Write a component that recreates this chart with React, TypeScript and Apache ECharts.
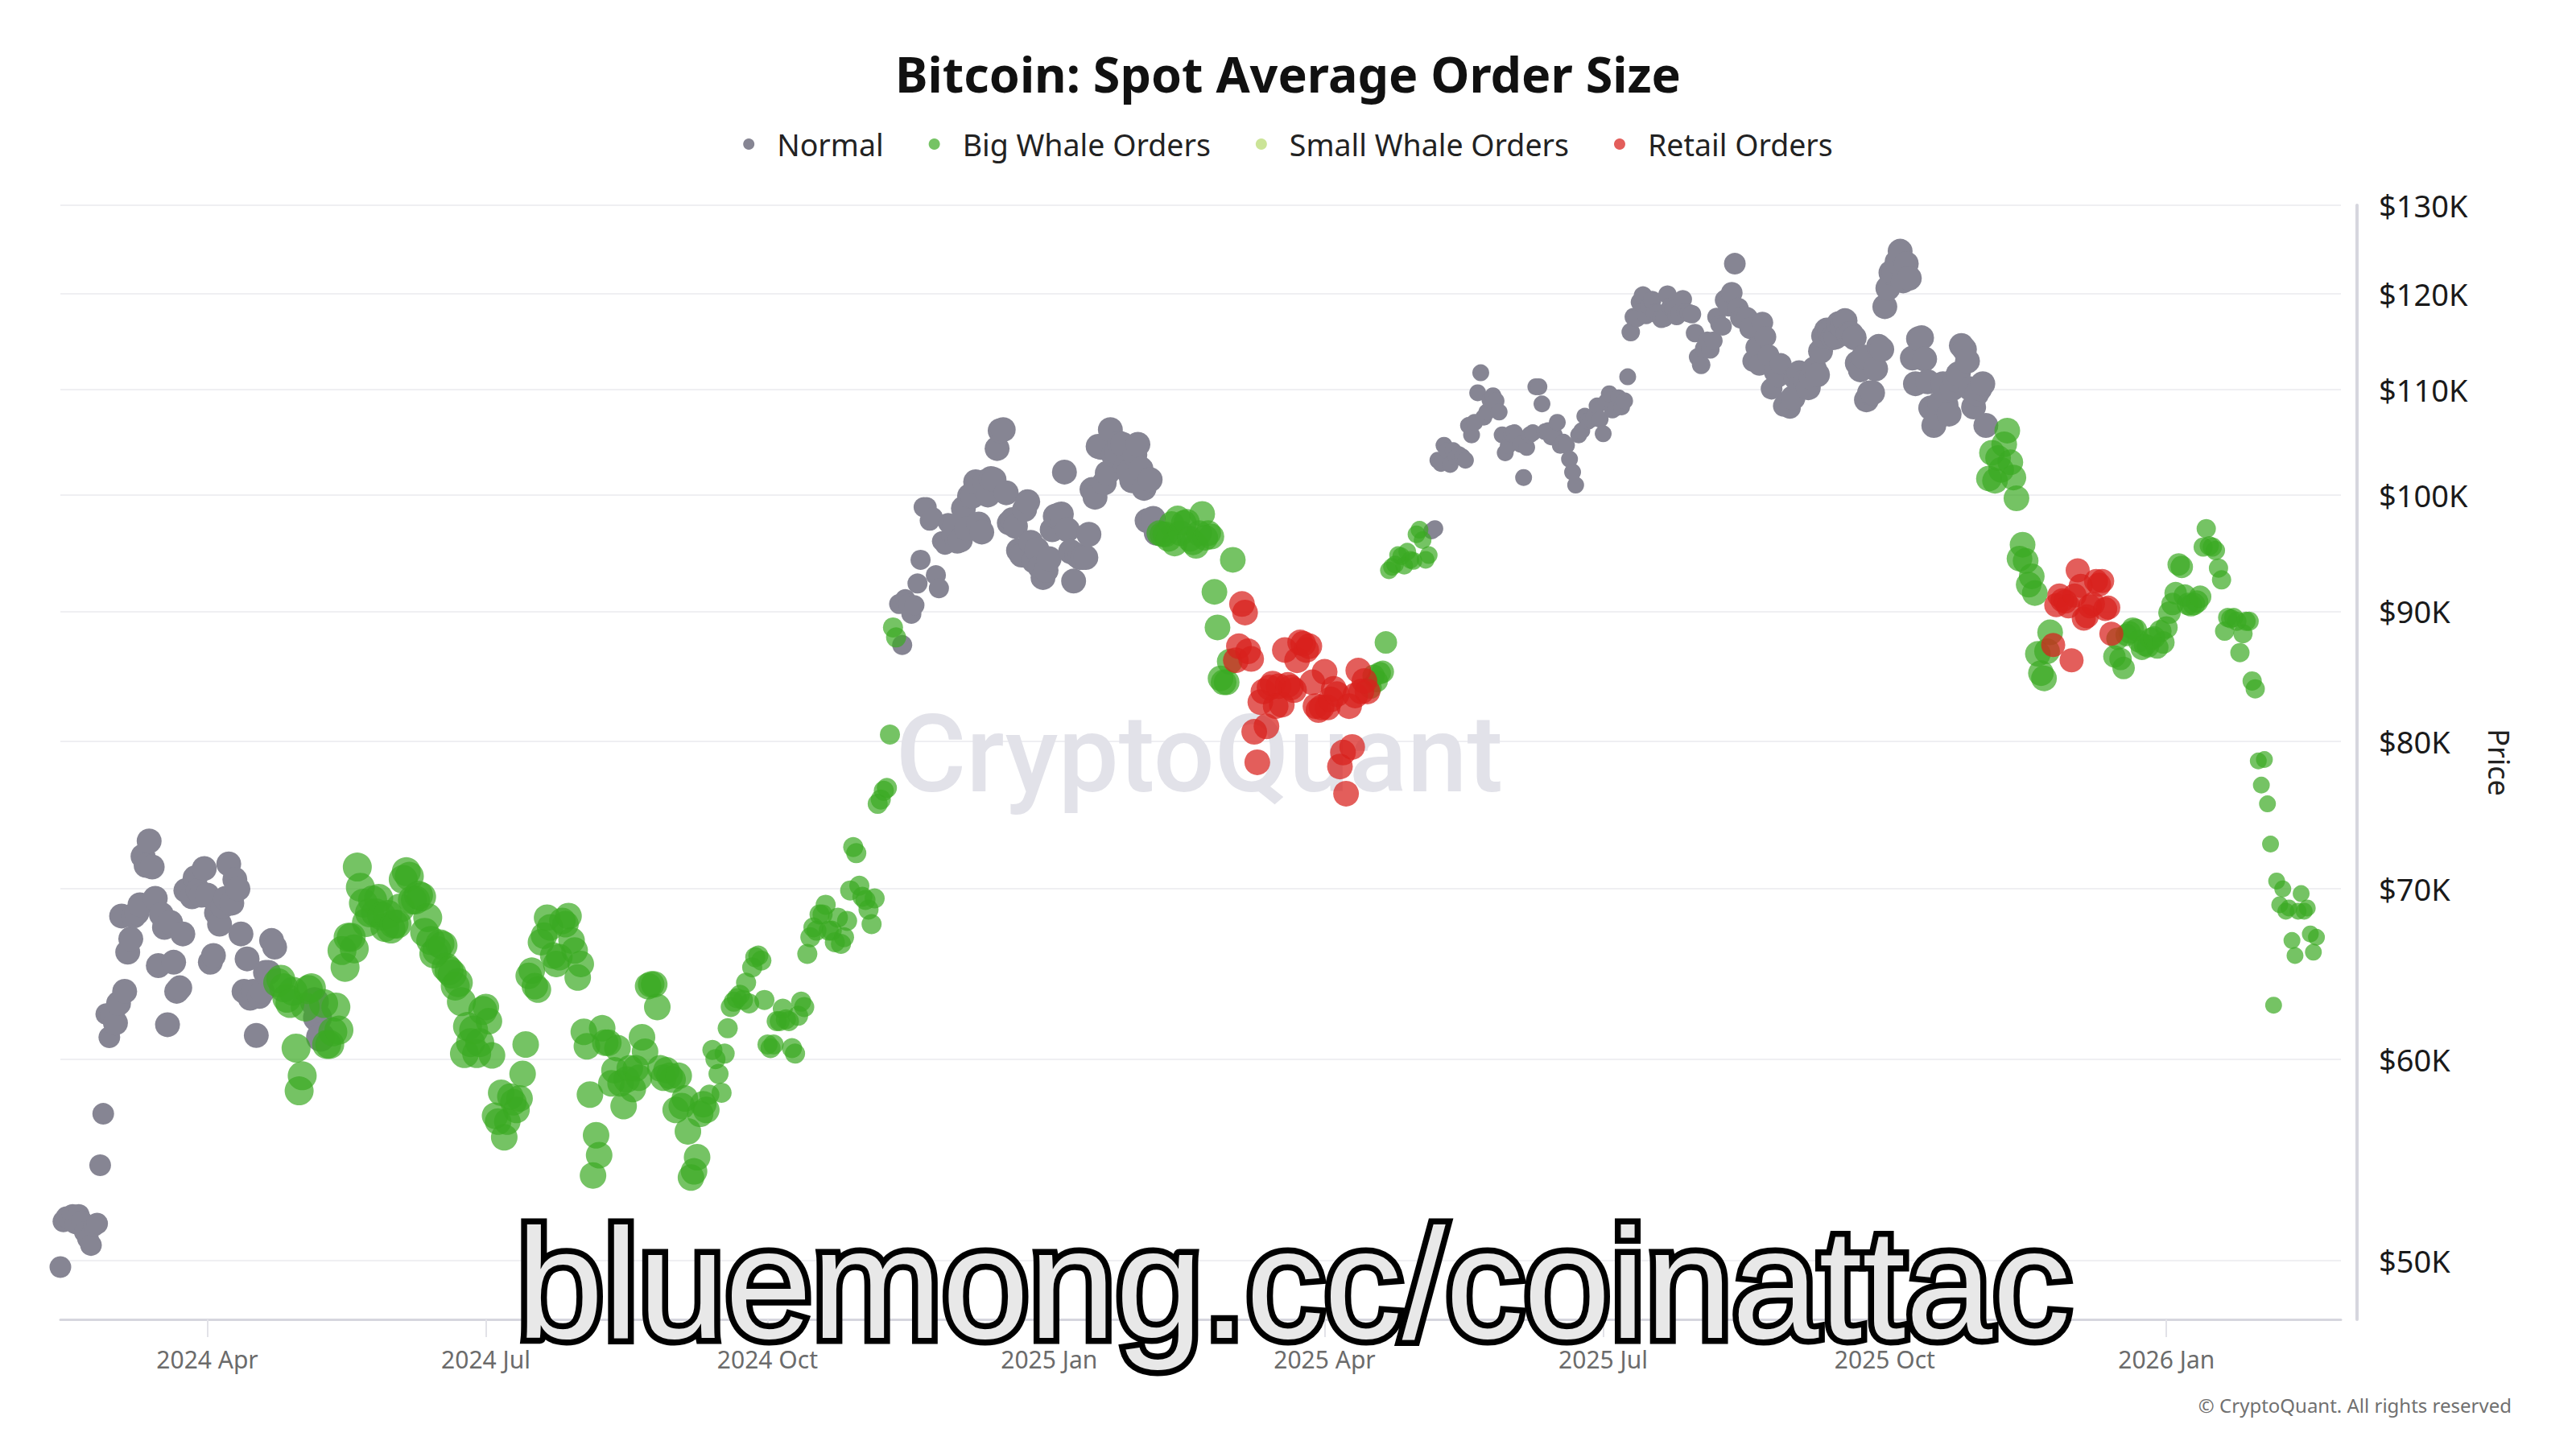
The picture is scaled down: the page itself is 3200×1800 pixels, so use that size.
import React, { useEffect, useRef } from "react";
import * as echarts from "echarts";

// ---------------- DATA ----------------
// Daily BTC price (in $K), starting 2024-02-13
const FIRST_DAY = "2024-02-13";

const close2024 = [
  // Feb 13-29
  49.7, 51.8, 52.0, 51.9, 52.1, 51.7, 52.1, 51.8, 51.3, 51.0, 50.7, 51.6, 51.7, 54.5, 57.1, 62.5, 61.2,
  // Mar
  62.4, 62.0, 63.1, 68.3, 63.8, 66.1, 66.9, 68.3, 68.5, 69.0, 72.1, 71.5, 73.1, 71.4, 69.4, 65.3, 68.4, 67.6, 61.9, 67.9, 65.5, 63.8, 64.0, 67.2, 69.9, 69.9, 69.5, 70.7, 69.9, 69.6, 71.3,
  // Apr
  69.6, 65.5, 65.9, 68.5, 67.8, 68.9, 69.4, 71.6, 69.1, 70.6, 70.0, 67.2, 63.8, 65.7, 63.4, 63.8, 61.3, 63.5, 63.8, 64.9, 64.9, 66.8, 66.4, 64.3, 64.5, 64.0, 63.4, 63.1, 63.8, 60.6,
  // May
  58.3, 59.1, 62.9, 63.9, 64.0, 63.2, 62.3, 61.2, 63.1, 60.8, 60.8, 61.5, 62.9, 61.6, 66.2, 65.2, 67.0, 67.0, 66.3, 71.4, 70.1, 69.1, 67.9, 68.5, 69.3, 68.5, 69.4, 68.3, 67.6, 68.4, 67.5,
  // Jun
  67.8, 67.8, 68.8, 70.6, 71.1, 70.8, 69.3, 69.3, 69.6, 69.5, 67.3, 68.2, 66.8, 66.0, 66.2, 66.6, 66.5, 65.2, 65.0, 64.8, 64.1, 64.3, 63.2, 60.3, 61.8, 60.9, 61.6, 60.3, 60.9, 62.7,
  // Jul
  62.9, 62.1, 60.2, 57.0, 56.7, 58.2, 55.9, 56.7, 58.0, 57.7, 57.3, 57.9, 59.2, 60.8, 64.7, 65.0, 64.1, 63.9, 66.7, 67.1, 68.2, 67.6, 65.9, 65.4, 65.8, 68.0, 67.8, 68.3, 66.8, 66.2, 64.6,
  // Aug
  65.4, 61.5, 60.7, 58.1, 54.0, 56.0, 55.0, 61.7, 60.9, 60.9, 58.7, 59.4, 60.6, 58.7, 57.5, 58.9, 59.5, 58.4, 59.5, 59.0, 61.2, 60.4, 64.1, 64.2, 64.2, 62.9, 59.5, 59.0, 59.4, 59.1, 58.9,
  // Sep
  57.3, 59.1, 57.5, 57.9, 56.2, 53.9, 54.2, 54.9, 57.1, 57.6, 57.3, 58.1, 60.5, 60.0, 59.2, 58.2, 60.3, 61.7, 62.9, 63.2, 63.4, 63.6, 63.3, 64.3, 63.1, 65.2, 65.8, 65.9, 65.6, 63.3,
  // Oct
  60.8, 60.6, 60.8, 62.1, 62.1, 62.8, 62.2, 62.1, 60.6, 60.3, 62.4, 63.2, 62.9, 66.0, 67.0, 67.6, 67.4, 68.4, 68.4, 69.0, 67.4, 67.4, 66.7, 68.2, 66.6, 67.0, 68.0, 69.9, 72.7, 72.3, 70.2,
  // Nov
  69.5, 69.3, 68.7, 67.8, 69.4, 75.6, 75.9, 76.5, 76.7, 80.5, 88.7, 87.9, 90.6, 87.3, 91.0, 90.6, 89.8, 90.5, 92.3, 94.3, 98.9, 98.9, 97.7, 98.0, 93.0, 91.9, 95.9, 95.6, 97.5, 96.4,
  // Dec
  97.2, 95.9, 96.0, 98.8, 97.0, 99.9, 99.9, 101.2, 97.4, 96.7, 101.2, 100.0, 101.5, 101.4, 104.3, 106.0, 106.1, 100.2, 97.5, 97.8, 97.2, 95.1, 94.7, 98.7, 99.4, 95.8, 94.2, 95.2, 93.7, 92.8, 93.4,
];

const close2025 = [
  // Jan
  94.4, 96.9, 98.1, 98.2, 98.3, 102.1, 96.9, 95.0, 92.5, 94.7, 94.5, 94.5, 94.5, 96.5, 100.5, 99.8, 104.5, 104.4, 101.1, 102.0, 106.1, 103.7, 104.0, 104.8, 104.7, 102.6, 102.1, 101.3, 103.7, 104.7, 102.4,
  // Feb
  100.6, 97.7, 101.4, 97.9, 96.6, 96.6, 96.5, 96.5, 96.1, 97.4, 95.7, 97.9, 96.6, 97.5, 97.6, 96.1, 95.8, 95.5, 96.6, 98.3, 96.2, 96.6, 96.3, 91.6, 88.7, 84.7, 84.4, 84.4,
  // Mar
  86.0, 94.3, 86.1, 87.2, 90.6, 89.9, 86.8, 86.2, 80.7, 78.5, 82.9, 83.7, 81.1, 84.0, 84.3, 82.6, 84.1, 82.7, 86.9, 84.2, 84.0, 83.8, 86.1, 87.5, 87.4, 86.9, 87.2, 84.4, 82.6, 82.3, 82.5,
  // Apr
  85.2, 82.5, 83.1, 83.9, 83.5, 78.2, 79.2, 76.3, 82.6, 79.6, 83.4, 85.3, 83.7, 84.5, 83.7, 84.0, 84.9, 84.5, 85.1, 85.2, 87.5, 93.4, 93.7, 93.9, 94.7, 94.6, 93.8, 95.0, 94.3, 94.2,
  // May
  96.5, 96.9, 96.0, 94.3, 94.7, 96.8, 97.0, 103.2, 102.9, 104.6, 104.1, 102.8, 104.1, 103.5, 103.7, 103.5, 103.2, 106.5, 105.6, 106.8, 109.7, 111.7, 107.3, 107.8, 109.0, 109.4, 108.9, 107.8, 105.6, 103.9, 104.6,
  // Jun
  105.7, 105.8, 105.4, 104.7, 101.6, 104.4, 105.6, 105.8, 110.3, 110.3, 108.6, 105.9, 106.0, 105.4, 105.6, 106.8, 104.6, 104.9, 104.6, 103.3, 102.1, 100.9, 105.6, 106.0, 107.4, 106.9, 107.1, 107.4, 108.4, 107.1,
  // Jul
  105.7, 108.8, 109.6, 108.0, 108.2, 109.2, 108.3, 108.9, 111.3, 115.9, 117.5, 117.4, 119.1, 119.8, 117.7, 118.7, 119.3, 117.9, 117.9, 117.3, 117.4, 119.9, 118.6, 118.3, 117.6, 117.9, 119.4, 118.0, 117.9, 117.8, 115.8,
  // Aug
  113.3, 112.5, 114.2, 115.0, 114.1, 115.0, 117.5, 116.7, 116.5, 119.3, 118.7, 120.1, 123.3, 118.4, 117.4, 117.5, 117.4, 116.3, 112.9, 114.3, 112.5, 116.9, 115.4, 113.5, 110.1, 111.8, 111.3, 112.6, 108.4, 108.8, 108.2,
  // Sep
  109.2, 111.2, 111.7, 110.7, 110.7, 110.2, 111.2, 112.1, 111.5, 113.9, 115.5, 116.1, 115.9, 115.3, 115.4, 116.8, 116.5, 117.1, 115.7, 115.7, 115.3, 112.7, 112.0, 113.3, 109.0, 109.7, 109.7, 112.1, 114.4, 114.1,
  // Oct
  118.6, 120.6, 122.3, 122.4, 123.5, 124.7, 121.4, 123.3, 121.7, 113.2, 110.6, 115.2, 115.3, 113.1, 110.8, 108.2, 106.5, 107.2, 108.7, 110.6, 108.5, 107.6, 110.1, 111.0, 111.6, 114.5, 114.1, 112.9, 110.1, 108.3, 109.6,
  // Nov
  110.1, 110.6, 106.5, 101.5, 103.9, 101.3, 103.4, 102.3, 104.7, 106.0, 103.0, 101.6, 99.7, 94.4, 95.6, 94.2, 92.2, 92.9, 91.5, 86.6, 85.1, 84.7, 86.8, 88.3, 87.3, 90.5, 91.3, 90.9, 90.8, 90.4,
  // Dec
  86.1, 91.3, 93.4, 92.1, 89.4, 89.6, 90.4, 90.6, 92.5, 92.2, 92.5, 90.2, 90.3, 88.2, 86.4, 87.8, 86.2, 85.5, 88.1, 88.3, 88.6, 88.5, 87.6, 87.0, 87.3, 87.2, 87.8, 87.9, 87.1, 88.4, 87.5,
];

const close2026 = [
  // Jan
  88.7, 89.9, 90.6, 91.5, 93.9, 93.7, 91.3, 90.6, 90.5, 90.6, 90.8, 91.2, 95.4, 97.0, 95.5, 95.4, 95.1, 93.6, 92.6, 88.4, 89.5, 89.4, 89.5, 89.2, 86.7, 88.2, 89.2, 89.2, 84.5, 83.9, 78.6,
  // Feb 1-19
  76.9, 78.7, 75.6, 72.9, 63.0, 70.5, 69.0, 70.0, 68.6, 68.8, 66.8, 65.9, 68.6, 69.7, 68.6, 68.8, 67.2, 66.1, 67.0,
];

const CATEGORIES = ["Normal", "Big Whale Orders", "Small Whale Orders", "Retail Orders"];

// Classification of each day (period start date -> class)
const classPeriods: [string, string][] = [
  ["2024-02-13", "Normal"],
  ["2024-04-24", "Big Whale Orders"],
  ["2024-05-06", "Normal"],
  ["2024-05-09", "Big Whale Orders"],
  ["2024-11-13", "Normal"],
  ["2025-02-06", "Big Whale Orders"],
  ["2025-03-03", "Retail Orders"],
  ["2025-04-16", "Big Whale Orders"],
  ["2025-05-06", "Normal"],
  ["2025-11-04", "Big Whale Orders"],
  ["2025-11-25", "Retail Orders"],
  ["2025-12-15", "Big Whale Orders"],
];

const priceTicksK = [50, 60, 70, 80, 90, 100, 110, 120, 130];
const monthTicks = ["2024-04-01", "2024-07-01", "2024-10-01", "2025-01-01", "2025-04-01", "2025-07-01", "2025-10-01", "2026-01-01"];
const MONTHS = ["Jan", "Feb", "Mar", "Apr", "May", "Jun", "Jul", "Aug", "Sep", "Oct", "Nov", "Dec"];

// ---------------- STYLE ----------------
// bubble diameter (px) by period
const SIZE_PERIODS: [string, number][] = [
  ["2024-02-13", 27],
  ["2024-03-01", 31],
  ["2024-04-24", 36],
  ["2024-07-01", 33],
  ["2024-09-12", 25],
  ["2024-12-01", 31],
  ["2025-02-06", 32],
  ["2025-04-16", 28],
  ["2025-04-22", 22],
  ["2025-05-06", 21],
  ["2025-07-10", 23],
  ["2025-08-10", 27],
  ["2025-09-01", 31],
  ["2025-11-04", 32],
  ["2025-11-25", 30],
  ["2025-12-15", 28],
  ["2026-01-13", 24],
  ["2026-01-31", 21],
];

const COLORS: Record<string, { color: string; opacity: number }> = {
  "Normal": { color: "#868593", opacity: 1 },
  "Big Whale Orders": { color: "#3aaa22", opacity: 0.7 },
  "Small Whale Orders": { color: "#b5d96b", opacity: 0.7 },
  "Retail Orders": { color: "#d8201c", opacity: 0.72 },
};

const FONT = "'Noto Sans', 'Open Sans', sans-serif";

function toTime(s: string) {
  const [y, m, d] = s.split("-").map(Number);
  return new Date(y, m - 1, d).getTime();
}

function lookup<T>(periods: [string, T][], t: number): T {
  let v = periods[0][1];
  for (const [start, val] of periods) {
    if (toTime(start) <= t) v = val;
  }
  return v;
}

function buildSeriesData() {
  const closes = [...close2024, ...close2025, ...close2026];
  const [y0, m0, d0] = FIRST_DAY.split("-").map(Number);
  const out: Record<string, number[][]> = {};
  CATEGORIES.forEach((c) => (out[c] = []));
  closes.forEach((p, i) => {
    const t = new Date(y0, m0 - 1, d0 + i).getTime();
    const cls = lookup(classPeriods, t);
    const size = lookup(SIZE_PERIODS, t);
    out[cls].push([t, Math.log(p * 1000), size]);
  });
  return out;
}

export default function App() {
  const ref = useRef<HTMLDivElement>(null);

  useEffect(() => {
    document.body.style.margin = "0";
    const chart = echarts.init(ref.current!, null, { renderer: "svg" });
    const data = buildSeriesData();
    const lnTicks = priceTicksK.map((k) => Math.log(k * 1000));
    const timeTicks = monthTicks.map(toTime);

    const option: any = {
      animation: false,
      backgroundColor: "#ffffff",
      title: {
        text: "Bitcoin: Spot Average Order Size",
        left: "center",
        top: 56,
        textStyle: { fontFamily: FONT, fontWeight: "bold", fontSize: 61, color: "#111111" },
      },
      legend: {
        top: 155,
        left: "center",
        icon: "circle",
        itemWidth: 60,
        itemHeight: 14,
        itemGap: 56,
        textStyle: { fontFamily: FONT, fontSize: 37.5, color: "#222222" },
        data: CATEGORIES,
      },
      grid: { left: 75, right: 292, top: 255, bottom: 161, containLabel: false },
      xAxis: {
        type: "value",
        min: toTime("2024-02-13"),
        max: toTime("2026-02-27"),
        axisLine: { show: true, lineStyle: { color: "#d6d6de", width: 3 } },
        axisTick: { show: true, customValues: timeTicks, length: 22, lineStyle: { color: "#e2e2e8", width: 2 } },
        axisLabel: {
          customValues: timeTicks,
          formatter: (v: number) => {
            const d = new Date(v);
            return d.getFullYear() + " " + MONTHS[d.getMonth()];
          },
          fontFamily: FONT,
          fontSize: 30,
          color: "#6b6b6b",
          margin: 34,
        },
        splitLine: { show: false },
      },
      yAxis: {
        type: "value",
        position: "right",
        offset: 20,
        min: Math.log(47400),
        max: Math.log(130000),
        name: "Price",
        nameLocation: "middle",
        nameRotate: -90,
        nameGap: 158,
        nameTextStyle: { fontFamily: FONT, fontSize: 36, color: "#222222" },
        axisLine: { show: true, lineStyle: { color: "#d6d6de", width: 4 } },
        axisTick: { show: false, customValues: lnTicks },
        axisLabel: {
          customValues: lnTicks,
          formatter: (v: number) => "$" + Math.round(Math.exp(v) / 1000) + "K",
          fontFamily: FONT,
          fontSize: 38,
          color: "#1a1a1a",
          margin: 27,
        },
        splitLine: { show: true, lineStyle: { color: "#efeff2", width: 2 } },
      },
      graphic: [
        {
          type: "text",
          x: 1490,
          y: 937,
          z: 1,
          silent: true,
          style: {
            text: "CryptoQuant",
            fontFamily: "Roboto",
            fontWeight: 500,
            fontSize: 134,
            fill: "#e2e2e9",
            align: "center",
            verticalAlign: "middle",
          },
        },
        {
          type: "text",
          x: 3120,
          y: 1745,
          z: 1,
          style: {
            text: "© CryptoQuant. All rights reserved",
            fontFamily: FONT,
            fontSize: 24,
            fill: "#707070",
            align: "right",
            verticalAlign: "middle",
          },
        },
        {
          type: "text",
          x: 1607,
          y: 1594,
          z: 100,
          silent: true,
          style: {
            text: "bluemong.cc/coinattac",
            fontFamily: "'Liberation Sans', Arial, sans-serif",
            fontSize: 194,
            fill: "#e8e8e8",
            stroke: "#000000",
            lineWidth: 15,
            align: "center",
            verticalAlign: "middle",
          },
        },
      ],
      series: CATEGORIES.map((c) => ({
        name: c,
        type: "scatter",
        symbol: "circle",
        clip: false,
        data: data[c],
        symbolSize: (v: number[]) => v[2],
        itemStyle: { color: COLORS[c].color, opacity: COLORS[c].opacity },
        emphasis: { disabled: true },
      })),
    };

    chart.setOption(option);
    return () => chart.dispose();
  }, []);

  return <div ref={ref} style={{ width: 3200, height: 1800 }} />;
}
